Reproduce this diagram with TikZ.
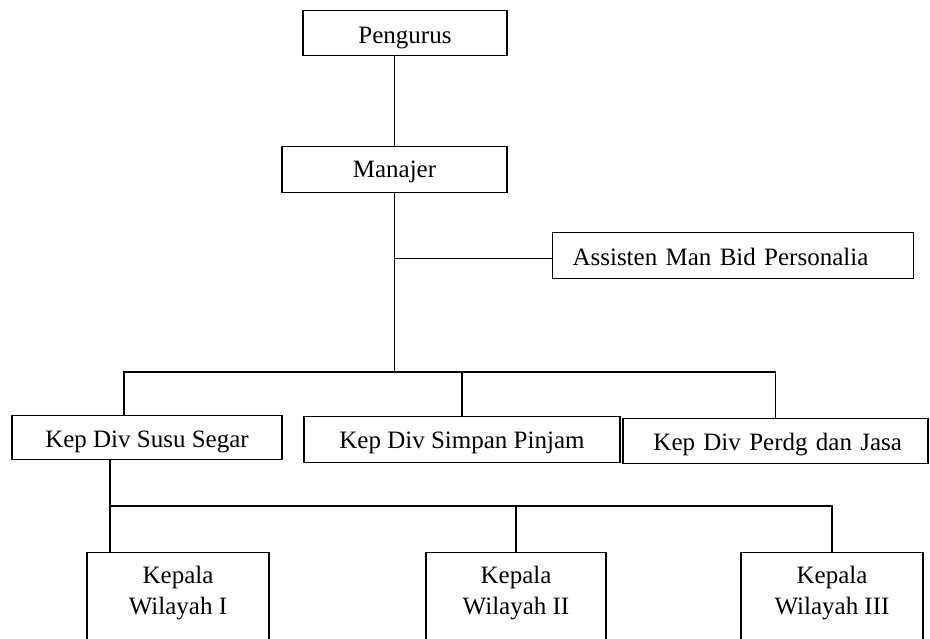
\documentclass[tikz,border=0pt]{standalone}
\usepackage{fontspec}
\setmainfont{Liberation Serif}
\begin{document}
\begin{tikzpicture}[x=1pt,y=-1pt,
  every node/.style={font=\fontsize{25}{31}\selectfont},
  orgbox/.style={draw, line width=1.1pt, inner ysep=0pt, inner xsep=0pt},
  link/.style={line width=1.1pt}]
\useasboundingbox (0,0) rectangle (930,639);
\clip (0,0) rectangle (930,639);
\fill[white] (0,0) rectangle (930,639);
% top level
\node[orgbox, anchor=north, minimum width=204pt, text height=33pt, text depth=12pt] (peng) at (405,10) {Pengurus};
\node[orgbox, anchor=north, minimum width=225pt, text height=31pt, text depth=15pt] (man) at (394.5,146) {Manajer};
\node[orgbox, anchor=north west, inner xsep=20pt, text width=321pt, align=left, text height=33pt, text depth=13pt] (asst) at (552,232) {Assisten Man Bid Personalia};
% divisions
\node[orgbox, anchor=north, minimum width=270pt, text height=32pt, text depth=12pt] (susu) at (147,415) {Kep Div Susu Segar};
\node[orgbox, anchor=north, minimum width=316pt, text height=32pt, text depth=14pt] (simp) at (462,416) {Kep Div Simpan Pinjam};
\node[orgbox, anchor=north, inner xsep=26pt, text width=253pt, align=right, text height=32pt, text depth=13pt] (perdg) at (775.5,418) {Kep Div Perdg dan Jasa};
% regions
\node[orgbox, anchor=north, minimum width=182pt, text height=62pt, text depth=120pt] (k1) at (178,552) {\begin{tabular}[b]{@{}c@{}}Kepala\\Wilayah I\end{tabular}};
\node[orgbox, anchor=north, minimum width=180pt, text height=62pt, text depth=120pt] (k2) at (516,552) {\begin{tabular}[b]{@{}c@{}}Kepala\\Wilayah II\end{tabular}};
\node[orgbox, anchor=north, minimum width=182pt, text height=62pt, text depth=120pt] (k3) at (832,552) {\begin{tabular}[b]{@{}c@{}}Kepala\\Wilayah III\end{tabular}};
% junctions
\coordinate (j1) at (394.5,372);
\coordinate (b1) at (124,372);
\coordinate (c1) at (110,506);
% connectors
\draw[link] (man.north) -- (man.north |- peng.south);
\draw[link] (man.south) -- (j1);
\draw[link] ([yshift=-3pt]asst.west) -- ([yshift=-3pt]asst.west -| man.south);
\draw[link] (b1 |- susu.north) -- (b1) -- (b1 -| perdg.north) -- (perdg.north);
\draw[link] (simp.north) -- (simp.north |- b1);
\draw[link] (c1 |- susu.south) -- (c1) -- (c1 -| k3.north) -- (k3.north);
\draw[link] (c1) -- (c1 |- k1.north);
\draw[link] (k2.north) -- (k2.north |- c1);
\end{tikzpicture}
\end{document}
